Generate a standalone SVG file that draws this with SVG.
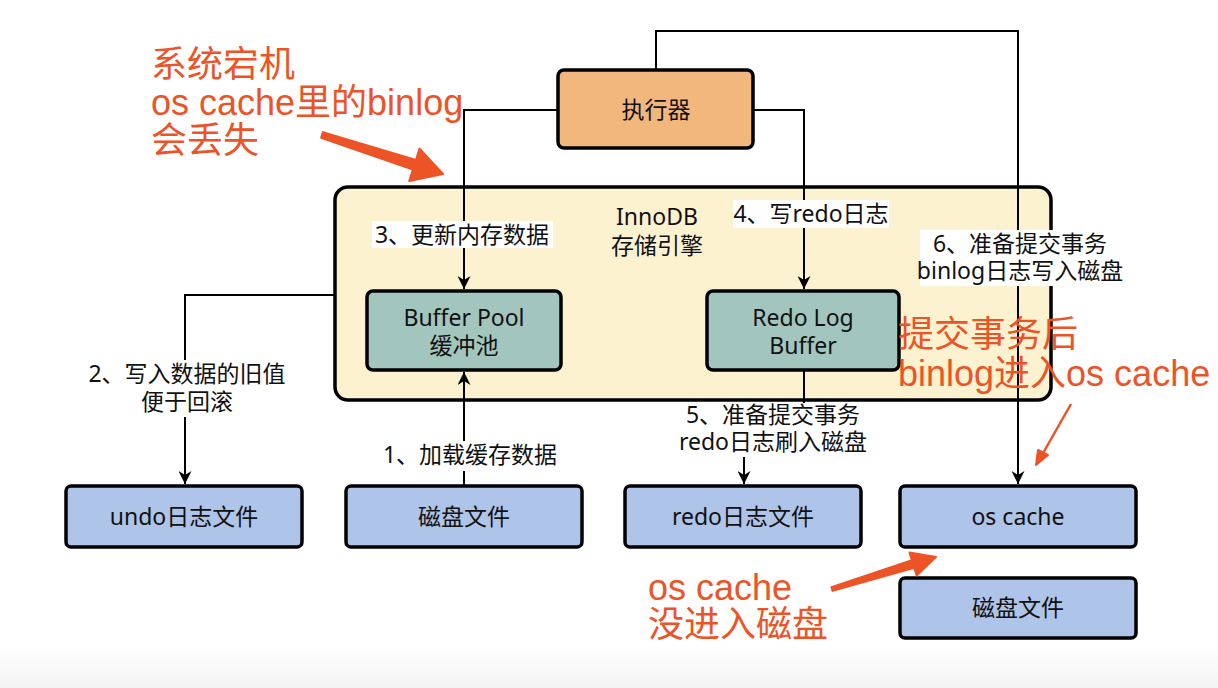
<svg xmlns="http://www.w3.org/2000/svg" width="1218" height="688" viewBox="0 0 1218 688">
<defs>
<style>
.t{font-family:"Noto Sans","Noto Sans CJK SC",sans-serif;font-size:23px;fill:#111;text-anchor:middle}
.r{font-family:"Liberation Sans","Noto Sans CJK SC",sans-serif;font-size:36px;fill:#EC5428}
.box{stroke:#000;stroke-width:3.5}
.exec{fill:#F2B77C}
.inno{fill:#FCF2D0}
.teal{fill:#A2C5BD}
.blue{fill:#AEC4E8}
.edge{fill:none;stroke:#000;stroke-width:2}
.lbl{fill:#fff}
.ra{fill:#EC5428;stroke:#EC5428;stroke-width:2;stroke-linejoin:round}
</style>
<marker id="arr" viewBox="0 0 10 10" refX="10" refY="5" markerWidth="13" markerHeight="13" markerUnits="userSpaceOnUse" orient="auto">
<path d="M0,0 L10,5 L0,10 L3,5 z" fill="#000"/>
</marker>
<linearGradient id="bg" x1="0" y1="0" x2="0" y2="1">
<stop offset="0" stop-color="#fff"/>
<stop offset="1" stop-color="#f3f3f3"/>
</linearGradient>
</defs>
<rect width="1218" height="688" fill="#fff"/>
<rect y="645" width="1218" height="43" fill="url(#bg)"/>

<g id="innodb">
<rect class="box inno" x="335" y="187" width="716" height="213" rx="13"/>
<text class="t" x="657" y="225">InnoDB</text>
<text class="t" x="657" y="254">存储引擎</text>
</g>

<g id="executor">
<rect class="box exec" x="558" y="70" width="195" height="78" rx="6"/>
<text class="t" x="656" y="118">执行器</text>
</g>

<g id="buffer-pool">
<rect class="box teal" x="367" y="291" width="194" height="79" rx="6"/>
<text class="t" x="464" y="326">Buffer Pool</text>
<text class="t" x="464" y="354">缓冲池</text>
</g>

<g id="redo-log-buffer">
<rect class="box teal" x="707" y="291" width="192" height="79" rx="6"/>
<text class="t" x="803" y="326">Redo Log</text>
<text class="t" x="803" y="354">Buffer</text>
</g>

<g id="undo-file">
<rect class="box blue" x="66" y="486" width="236" height="61" rx="5"/>
<text class="t" x="184" y="525">undo日志文件</text>
</g>
<g id="disk-file">
<rect class="box blue" x="346" y="486" width="236" height="61" rx="5"/>
<text class="t" x="464" y="525">磁盘文件</text>
</g>
<g id="redo-file">
<rect class="box blue" x="625" y="486" width="236" height="61" rx="5"/>
<text class="t" x="743" y="525">redo日志文件</text>
</g>
<g id="os-cache">
<rect class="box blue" x="900" y="486" width="236" height="61" rx="5"/>
<text class="t" x="1018" y="525">os cache</text>
</g>
<g id="disk-file-2">
<rect class="box blue" x="900" y="578" width="236" height="60" rx="5"/>
<text class="t" x="1018" y="616">磁盘文件</text>
</g>

<g id="connectors">
<path class="edge" d="M464,486 V372" marker-end="url(#arr)"/>
<path class="edge" d="M335,295 H185 V484" marker-end="url(#arr)"/>
<path class="edge" d="M558,110 H464 V289" marker-end="url(#arr)"/>
<path class="edge" d="M753,110 H804 V289" marker-end="url(#arr)"/>
<path class="edge" d="M804,370 V428 H744 V484" marker-end="url(#arr)"/>
<path class="edge" d="M656,70 V31 H1018 V484" marker-end="url(#arr)"/>

<rect class="lbl" x="378" y="441" width="185" height="30"/>
<text class="t" x="470" y="463">1、加载缓存数据</text>
<rect class="lbl" x="84" y="360" width="206" height="57"/>
<text class="t" x="187" y="382">2、写入数据的旧值</text>
<text class="t" x="187" y="410">便于回滚</text>
<rect class="lbl" x="372" y="221" width="181" height="27"/>
<text class="t" x="462" y="243">3、更新内存数据</text>
<rect class="lbl" x="733" y="200" width="156" height="28"/>
<text class="t" x="811" y="222">4、写redo日志</text>
<rect class="lbl" x="685" y="403" width="178" height="54"/>
<text class="t" x="773" y="423">5、准备提交事务</text>
<text class="t" x="773" y="450">redo日志刷入磁盘</text>
<rect class="lbl" x="920" y="230" width="203" height="56"/>
<text class="t" x="1020" y="252">6、准备提交事务</text>
<text class="t" x="1020" y="279">binlog日志写入磁盘</text>
</g>

<g id="annotations">
<text class="r" x="151" y="77">系统宕机</text>
<text class="r" x="151" y="115">os cache里的binlog</text>
<text class="r" x="151" y="153">会丢失</text>
<polygon class="ra" points="322.9,132.1 415.9,160 419.6,148.6 443,174 409.2,181 412.9,169.6 321.1,137.9"/>

<text class="r" x="898" y="347">提交事务后</text>
<text class="r" x="898" y="386">binlog进入os cache</text>
<line x1="1071" y1="404" x2="1042" y2="455" stroke="#EC5428" stroke-width="2.5"/>
<polygon class="ra" points="1036,465 1048,455 1038,450"/>

<text class="r" x="648" y="600">os cache</text>
<text class="r" x="648" y="637">没进入磁盘</text>
<polygon class="ra" points="832.6,590.9 914.3,567.9 916.7,575.5 936,557 909.5,552.6 911.9,560.3 831.4,587.1"/>
</g>
</svg>
